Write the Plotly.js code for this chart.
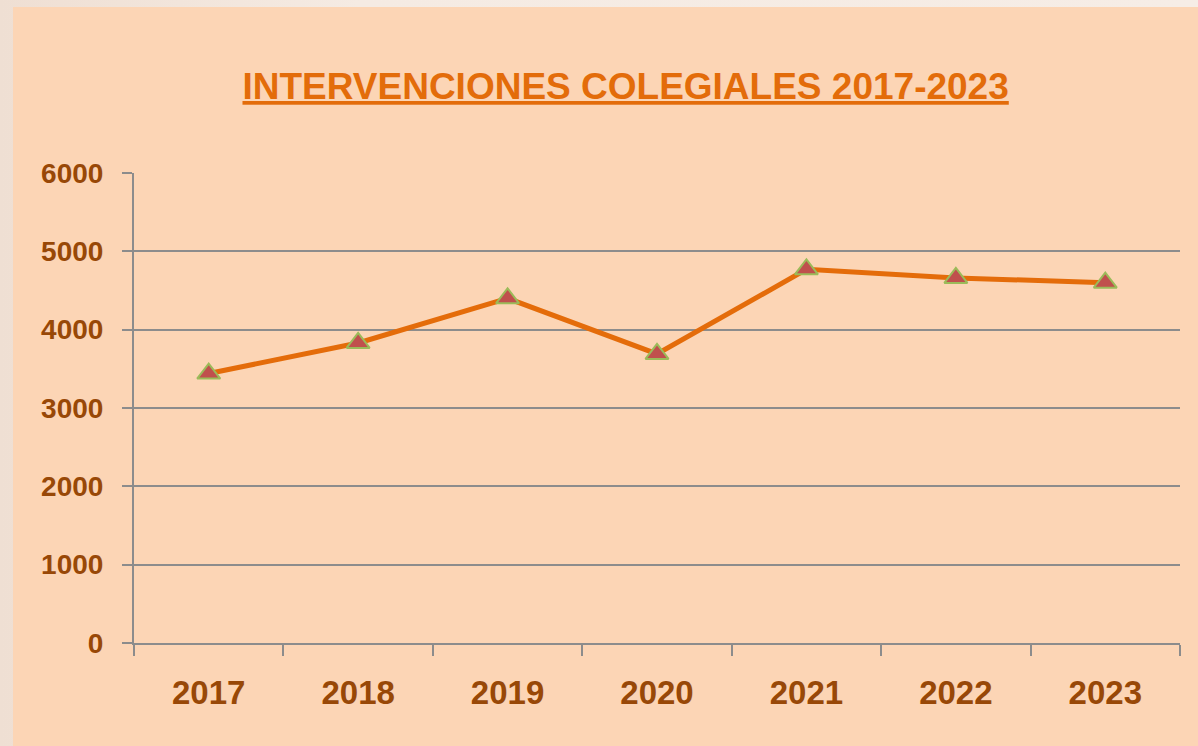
<!DOCTYPE html>
<html>
<head>
<meta charset="utf-8">
<script src="https://cdn.plot.ly/plotly-3.0.1.min.js"></script>
<style>
  html, body { margin: 0; padding: 0; width: 1198px; height: 746px; overflow: hidden;
    background: linear-gradient(90deg, #efdfd3 0%, #f5ebe3 30%, #f6ede6 100%); }
  #chart { position: absolute; left: 13px; top: 7px; width: 1185px; height: 739px; }
</style>
</head>
<body>
<div id="chart"></div>
<script>
const years = ['2017', '2018', '2019', '2020', '2021', '2022', '2023'];
const interventions = [3440, 3830, 4400, 3690, 4770, 4660, 4600];
const yTicks = [0, 1000, 2000, 3000, 4000, 5000, 6000];
const chartTitle = 'INTERVENCIONES COLEGIALES 2017-2023';

const trace = {
  type: 'scatter',
  mode: 'lines+markers',
  x: years,
  y: interventions,
  line: { color: '#e46c0a', width: 5 },
  marker: { symbol: 'triangle-up', size: 20, color: '#c0504d', line: { color: '#9bbb59', width: 2 } },
  hoverinfo: 'x+y'
};

const layout = {
  width: 1185,
  height: 739,
  paper_bgcolor: '#fcd5b5',
  plot_bgcolor: '#fcd5b5',
  margin: { l: 121, r: 18, t: 166, b: 103 },
  showlegend: false,
  title: {
    text: chartTitle,
    x: 0.517, xanchor: 'center',
    y: 0.893, yanchor: 'middle',
    font: { family: 'Liberation Sans, Arial, sans-serif', size: 37, color: '#e36c0a', weight: 'bold', lineposition: 'under' }
  },
  xaxis: {
    type: 'category',
    range: [-0.5, 6.5],
    showgrid: false,
    showline: true, linecolor: '#8c8c8c', linewidth: 2,
    ticks: 'outside', tickson: 'boundaries', ticklen: 11, tickwidth: 2, tickcolor: '#8c8c8c',
    ticklabelstandoff: 19,
    tickfont: { family: 'Liberation Sans, Arial, sans-serif', size: 33, color: '#984807', weight: 'bold' },
    fixedrange: true
  },
  yaxis: {
    range: [0, 6000],
    tickvals: yTicks,
    ticktext: yTicks.map(String),
    showgrid: true, gridcolor: '#8c8c8c', gridwidth: 2,
    showline: true, linecolor: '#8c8c8c', linewidth: 2,
    zeroline: false,
    ticks: 'outside', ticklen: 10, tickwidth: 2, tickcolor: '#8c8c8c',
    ticklabelstandoff: 13,
    tickfont: { family: 'Liberation Sans, Arial, sans-serif', size: 28, color: '#984807', weight: 'bold' },
    fixedrange: true
  }
};

Plotly.newPlot('chart', [trace], layout, { displayModeBar: false, staticPlot: false });
</script>
</body>
</html>
